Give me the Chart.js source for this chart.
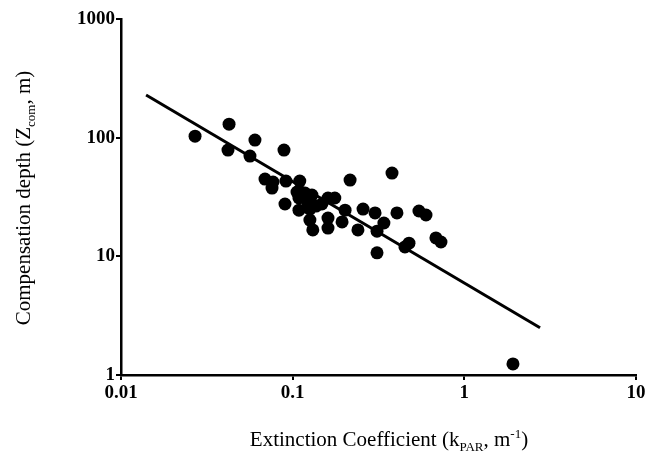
<!doctype html>
<html lang="en">
  <head>
    <meta charset="utf-8">
    <title>Compensation depth vs extinction coefficient</title>
    <style>
      html, body { margin: 0; padding: 0; background: #fff; }
      canvas { display: block; }
    </style>
  </head>
  <body>
    <canvas id="myChart" width="648" height="463"></canvas>

    <script src="https://cdn.jsdelivr.net/npm/chart.js"></script>
    <script>
        // extinction coefficient kPAR (m-1) and compensation depth Zcom (m)
        const kPar = [
            0.027, 0.0426, 0.042, 0.0603, 0.0564, 0.089, 0.069, 0.0768, 0.0758, 0.0914,
            0.110, 0.0902, 0.106, 0.1088, 0.1088, 0.118, 0.1295, 0.1228, 0.126, 0.1367,
            0.148, 0.1606, 0.176, 0.126, 0.131, 0.1606, 0.1606, 0.194, 0.202, 0.216,
            0.240, 0.257, 0.302, 0.310, 0.379, 0.340, 0.310, 0.405, 0.451, 0.476,
            0.544, 0.598, 0.683, 0.731, 1.92
        ];
        const zComp = [
            103, 130, 78.6, 95.5, 70.0, 78.6, 44.8, 42.3, 37.6, 43.1,
            43.1, 27.6, 34.8, 31.0, 24.5, 34.1, 32.8, 28.1, 25.0, 26.5,
            27.6, 31.0, 31.0, 20.2, 16.7, 21.0, 17.3, 19.5, 24.5, 43.9,
            16.7, 25.0, 23.2, 10.7, 50.3, 19.1, 16.3, 23.2, 12.0, 12.9,
            24.1, 22.3, 14.3, 13.2, 1.24
        ];

        // regression line end points
        const fitX = [0.014, 2.76];
        const fitY = [229, 2.5];

        const xTicks = [0.01, 0.1, 1, 10];
        const yTicks = [1, 10, 100, 1000];

        const serif = "'Liberation Serif', 'DejaVu Serif', serif";

        // draws a title made of parts: [text, 'sub'|'sup'|null]
        const drawParts = (ctx, parts, size) => {
            const small = Math.round(size * 0.62);
            let total = 0;
            parts.forEach(([t, k]) => {
                ctx.font = (k ? small : size) + 'px ' + serif;
                total += ctx.measureText(t).width;
            });
            let x = -total / 2;
            parts.forEach(([t, k]) => {
                ctx.font = (k ? small : size) + 'px ' + serif;
                let dy = 0;
                if (k === 'sub') dy = size * 0.25;
                if (k === 'sup') dy = -size * 0.4;
                ctx.fillText(t, x, dy);
                x += ctx.measureText(t).width;
            });
        };

        const axisTitles = {
            id: 'axisTitles',
            afterDraw(chart) {
                const ctx = chart.ctx;
                ctx.save();
                ctx.fillStyle = '#000';
                ctx.textBaseline = 'alphabetic';
                ctx.textAlign = 'left';

                ctx.save();
                ctx.translate(30, 198);
                ctx.rotate(-Math.PI / 2);
                drawParts(ctx, [['Compensation depth (Z', null], ['com', 'sub'], [', m)', null]], 21);
                ctx.restore();

                ctx.save();
                ctx.translate(389, 446);
                drawParts(ctx, [['Extinction Coefficient (k', null], ['PAR', 'sub'], [', m', null], ['-1', 'sup'], [')', null]], 21);
                ctx.restore();

                ctx.restore();
            }
        };

        const points = kPar.map((k, i) => ({ x: k, y: zComp[i] }));
        const fit = fitX.map((k, i) => ({ x: k, y: fitY[i] }));

        const tickFont = { family: serif, size: 19, weight: 'bold' };

        const config = {
            type: 'scatter',
            data: {
                datasets: [
                    {
                        label: 'Lakes',
                        data: points,
                        backgroundColor: '#000',
                        borderWidth: 0,
                        pointRadius: 6.5,
                        pointHoverRadius: 6.5
                    },
                    {
                        type: 'line',
                        label: 'Fit',
                        data: fit,
                        borderColor: '#000',
                        borderWidth: 3,
                        pointRadius: 0,
                        fill: false
                    }
                ]
            },
            options: {
                responsive: false,
                animation: false,
                devicePixelRatio: 1,
                layout: {
                    padding: { left: 0, right: 12, top: 19, bottom: 0 }
                },
                plugins: {
                    legend: { display: false },
                    tooltip: { enabled: false }
                },
                scales: {
                    x: {
                        type: 'logarithmic',
                        min: 0.01,
                        max: 10,
                        afterBuildTicks: (scale) => {
                            scale.ticks = xTicks.map((v) => ({ value: v, major: true }));
                        },
                        afterFit: (scale) => { scale.height = 88; },
                        ticks: {
                            color: '#000',
                            font: tickFont,
                            padding: 2,
                            maxRotation: 0,
                            autoSkip: false,
                            callback: (v) => String(v)
                        },
                        grid: {
                            drawOnChartArea: false,
                            drawTicks: true,
                            tickLength: 5,
                            color: '#000',
                            lineWidth: 2
                        },
                        border: { display: true, color: '#000', width: 2.5 }
                    },
                    y: {
                        type: 'logarithmic',
                        min: 1,
                        max: 1000,
                        afterBuildTicks: (scale) => {
                            scale.ticks = yTicks.map((v) => ({ value: v, major: true }));
                        },
                        afterFit: (scale) => { scale.width = 121; },
                        ticks: {
                            color: '#000',
                            font: tickFont,
                            padding: 1,
                            autoSkip: false,
                            callback: (v) => String(v)
                        },
                        grid: {
                            drawOnChartArea: false,
                            drawTicks: true,
                            tickLength: 5,
                            color: '#000',
                            lineWidth: 2
                        },
                        border: { display: true, color: '#000', width: 2.5 }
                    }
                }
            },
            plugins: [axisTitles]
        };

        new Chart(document.getElementById('myChart'), config);
    </script>
  </body>
</html>
